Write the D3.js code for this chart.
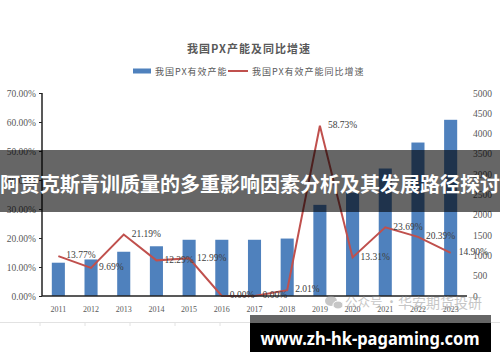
<!DOCTYPE html>
<html>
<head>
<meta charset="utf-8">
<style>
  body { margin: 0; background: #fff; }
  svg { display: block; }
</style>
</head>
<body>
<svg id="chart"></svg>
<script src="https://d3js.org/d3.v7.min.js"></script>
<script>

var years = ['2011', '2012', '2013', '2014', '2015', '2016', '2017', '2018', '2019', '2020', '2021', '2022', '2023'];
var capacity = [820, 900, 1090, 1225, 1385, 1385, 1385, 1415, 2245, 2540, 3140, 3780, 4340];
var growth = [13.77, 9.69, 21.19, 12.29, 12.99, 0.00, 0.00, 2.01, 58.73, 13.31, 23.69, 20.39, 14.90];
var leftTicks = [0, 10, 20, 30, 40, 50, 60, 70];
var rightTicks = [0, 500, 1000, 1500, 2000, 2500, 3000, 3500, 4000, 4500, 5000];

var title = '我国PX产能及同比增速';
var legendBar = '我国PX有效产能';
var legendLine = '我国PX有效产能同比增速';
var banner = '阿贾克斯青训质量的多重影响因素分析及其发展路径探讨';
var site = 'www.zh-hk-pagaming.com';

var W = 500, H = 362;
var svg = d3.select('#chart').attr('width', W).attr('height', H);

var serif = '"Liberation Serif", "DejaVu Serif", serif';
var cjk = '"Noto Sans CJK SC", sans-serif';

var x = d3.scaleBand().domain(years).range([42, 467]).padding(0);
var yL = d3.scaleLinear().domain([0, 70]).range([296, 93]);
var yR = d3.scaleLinear().domain([0, 5000]).range([296, 93]);
var cx = function(d){ return x(d) + x.bandwidth() / 2; };
var barW = x.bandwidth() * 0.4;

// title + legend
svg.append('text')
    .attr('x', 249).attr('y', 53)
    .attr('text-anchor', 'middle')
    .style('font-family', cjk).style('font-size', '11px').style('font-weight', 'bold')
    .style('letter-spacing', '1px')
    .style('fill', '#595959')
    .text(title);

svg.append('rect').attr('x', 133).attr('y', 68.5).attr('width', 18).attr('height', 5).style('fill', '#4f81bd');
svg.append('text').attr('x', 155).attr('y', 74.5)
    .style('font-family', cjk).style('font-size', '9px').style('letter-spacing', '1px').style('fill', '#595959')
    .text(legendBar);
svg.append('line').attr('x1', 228).attr('x2', 248).attr('y1', 71).attr('y2', 71)
    .style('stroke', '#c0504d').style('stroke-width', 2);
svg.append('text').attr('x', 252).attr('y', 74.5)
    .style('font-family', cjk).style('font-size', '9px').style('letter-spacing', '1px').style('fill', '#595959')
    .text(legendLine);

// bars
svg.selectAll('.bar')
    .data(years)
    .enter().append('rect')
    .attr('class', 'bar')
    .attr('x', function(d){ return cx(d) - barW / 2; })
    .attr('y', function(d, i){ return yR(capacity[i]); })
    .attr('width', barW)
    .attr('height', function(d, i){ return yR(0) - yR(capacity[i]); })
    .style('fill', '#4f81bd');

// growth line
var line = d3.line()
    .x(function(d){ return cx(d); })
    .y(function(d, i){ return yL(growth[i]); });

svg.append('path').datum(years)
    .attr('d', line)
    .style('fill', 'none')
    .style('stroke', '#c0504d')
    .style('stroke-width', 2)
    .style('stroke-linejoin', 'miter');

svg.selectAll('.lbl')
    .data(years)
    .enter().append('text')
    .attr('class', 'lbl')
    .attr('x', function(d){ return cx(d) + 8; })
    .attr('y', function(d, i){ return yL(growth[i]) - 1; })
    .attr('dy', '0.35em')
    .style('font-family', serif).style('font-size', '9.5px').style('fill', '#404040')
    .text(function(d, i){ return d3.format('.2f')(growth[i]) + '%'; });

// axes
var left = svg.append('g').attr('transform', 'translate(42,0)')
    .call(d3.axisLeft(yL).tickValues(leftTicks).tickSize(3).tickPadding(3)
        .tickFormat(function(d){ return d3.format('.2f')(d) + '%'; }));
left.select('.domain').attr('d', 'M0,' + yL(70) + 'V' + yL(0)).style('stroke', '#222').style('stroke-width', 1.5);
left.selectAll('.tick line').style('stroke', '#222');
left.selectAll('text').style('font-family', serif).style('font-size', '9.5px').style('fill', '#595959');

var right = svg.append('g').attr('transform', 'translate(473,0)')
    .call(d3.axisRight(yR).tickValues(rightTicks).tickSize(0).tickPadding(0).tickFormat(d3.format('d')));
right.select('.domain').remove();
right.selectAll('text').style('font-family', serif).style('font-size', '9.5px').style('fill', '#595959');

var bottom = svg.append('g').attr('transform', 'translate(0,296)')
    .call(d3.axisBottom(x).tickSize(0).tickPadding(10));
bottom.select('.domain').attr('d', 'M42,0H467').style('stroke', '#222').style('stroke-width', 1.5);
bottom.selectAll('text').style('font-family', serif).style('font-size', '8px').style('fill', '#595959');

// watermark
var wm = svg.append('g').style('opacity', 0.55);
wm.append('ellipse').attr('cx', 331).attr('cy', 301).attr('rx', 6).attr('ry', 5).style('fill', '#999');
wm.append('ellipse').attr('cx', 338).attr('cy', 305).attr('rx', 5).attr('ry', 4).style('fill', '#999')
    .style('stroke', '#fff').style('stroke-width', 1);
wm.append('text').attr('x', 345).attr('y', 307)
    .style('font-family', cjk).style('font-size', '12.5px').style('fill', '#999')
    .text('公众号 ·');
wm.append('text').attr('x', 398).attr('y', 308)
    .style('font-family', cjk).style('font-size', '14px').style('fill', '#999')
    .text('华安期货投研');

// page rule under the chart
svg.append('line').attr('x1', 0).attr('x2', W).attr('y1', 322.5).attr('y2', 322.5)
    .style('stroke', '#e2e2e2').style('stroke-width', 1);
[40, 85, 130, 175, 220].forEach(function(t){
    svg.append('line').attr('x1', t).attr('x2', t).attr('y1', 322).attr('y2', 326)
        .style('stroke', '#e2e2e2').style('stroke-width', 1);
});

// overlay banner
svg.append('rect').attr('x', 0).attr('y', 150).attr('width', W).attr('height', 62)
    .style('fill', 'rgba(0,0,0,0.6)');
svg.append('text').attr('x', 250).attr('y', 183)
    .attr('text-anchor', 'middle').attr('dominant-baseline', 'central')
    .style('font-family', cjk).style('font-size', '20px').style('font-weight', 'bold')
    .style('fill', '#fff')
    .text(banner);

// site box
svg.append('rect').attr('x', 250).attr('y', 315).attr('width', 241).attr('height', 8).style('fill', '#666');
svg.append('rect').attr('x', 250).attr('y', 323).attr('width', 241).attr('height', 29).style('fill', '#000');
svg.append('text').attr('x', 370).attr('y', 338)
    .attr('text-anchor', 'middle').attr('dominant-baseline', 'central')
    .attr('textLength', 219).attr('lengthAdjust', 'spacingAndGlyphs')
    .style('font-family', '"Noto Sans", sans-serif').style('font-size', '17px').style('font-weight', 'bold')
    .style('fill', '#fff')
    .text(site);

</script>
</body>
</html>
